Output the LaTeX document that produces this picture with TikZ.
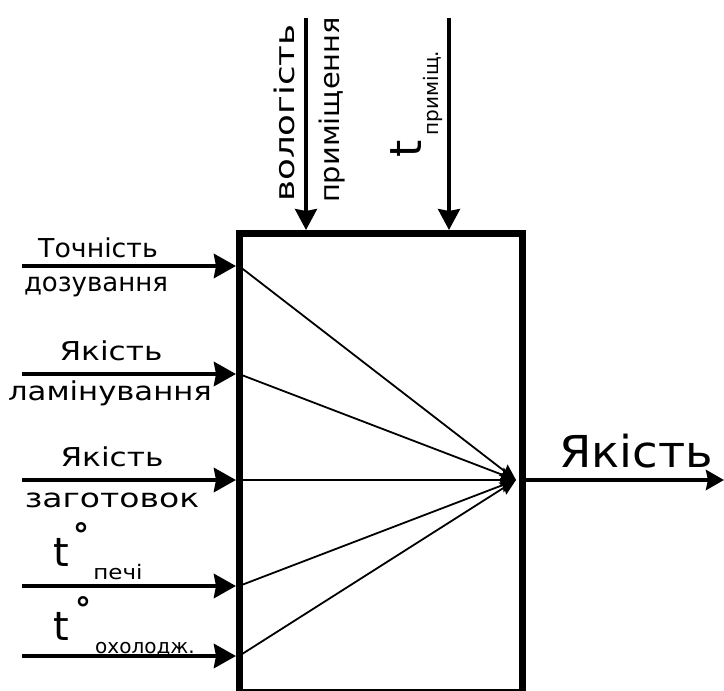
\documentclass[tikz,border=0pt]{standalone}
\usepackage{fontspec}
\setmainfont{DejaVu Sans}
\usetikzlibrary{arrows.meta}
\newcommand\hsx[2]{\scalebox{#1}[1]{#2}}
\begin{document}
\begin{tikzpicture}[x=1pt,y=-1pt,
  inarrow/.style={line width=4.5pt,-{Stealth[length=22pt,width=24pt,inset=2pt]}},
  toparrow/.style={line width=3.5pt,-{Stealth[length=21pt,width=22pt,inset=2pt]}},
  ray/.style={line width=1.8pt,-{Stealth[length=16pt,width=14pt,inset=2pt]}},
  outarrow/.style={line width=4pt,-{Stealth[length=18pt,width=20pt,inset=2pt]}},
  lbl/.style={inner sep=0pt, font=\fontsize{26}{26}\selectfont},
  toplbl/.style={inner sep=0pt, font=\fontsize{27}{27}\selectfont},
  sub/.style={inner sep=0pt, font=\fontsize{20}{20}\selectfont},
  big/.style={inner sep=0pt, font=\fontsize{44}{44}\selectfont},
  tt/.style={inner sep=0pt, font=\fontsize{40}{40}\selectfont},
  deg/.style={inner sep=0pt, font=\fontsize{32}{32}\selectfont\bfseries}
  ]
\useasboundingbox (0,0) rectangle (724,691);
\node[draw, line width=6.5pt, minimum width=283pt, minimum height=459pt, inner sep=0pt, anchor=north west] (box) at (236,230) {};
% inputs
\coordinate (s1) at (22,266);
\coordinate (s2) at (22,374);
\coordinate (s3) at (22,480);
\coordinate (s4) at (22,586);
\coordinate (s5) at (22,656);
\coordinate (c) at (516,480);
\foreach \i in {1,...,5}{
  \draw[inarrow] (s\i) -- (box.west |- s\i);
  \draw[ray] (box.west |- s\i) ++(3,0) -- (c);
}
% top
\coordinate (t1) at (306,18);
\coordinate (t2) at (449,18);
\draw[toparrow] (t1) -- (box.north -| t1);
\draw[toparrow] (t2) -- (box.north -| t2);
% output
\coordinate (out) at (724,480);
\draw[outarrow] (box.east |- c) -- (out);
% labels
\node[lbl] (l1a) at (98,248) {\hsx{1.03}{Точність}};
\node[lbl] (l1b) at (96,287) {\hsx{1.0}{дозування}};
\node[lbl] (l2a) at (111,351) {\hsx{1.2}{Якість}};
\node[lbl] (l2b) at (110,393) {\hsx{1.18}{ламінування}};
\node[lbl] (l3a) at (112,457) {\hsx{1.2}{Якість}};
\node[lbl] (l3b) at (112,500) {\hsx{1.27}{заготовок}};
\node[tt] (l4t) at (61,552) {t};
\node[deg, anchor=north] (l4d) at (82,522) {°};
\node[sub] (l4s) at (118,572) {\hsx{1.15}{печі}};
\node[tt] (l5t) at (61,626) {t};
\node[deg, anchor=north] (l5d) at (83,596) {°};
\node[sub] (l5s) at (145,649) {охолодж.};
\node[toplbl, rotate=90] (tp1) at (284,113) {\hsx{1.32}{вологість}};
\node[toplbl, rotate=90] (tp2) at (332,110) {\hsx{1.07}{приміщення}};
\node[tt, rotate=90, font=\fontsize{44}{44}\selectfont] (tp3) at (406,149) {t};
\node[sub, rotate=90] (tp4) at (433,93) {приміщ.};
\node[big] (outl) at (636,451) {\hsx{1.06}{Якість}};
\end{tikzpicture}
\end{document}
